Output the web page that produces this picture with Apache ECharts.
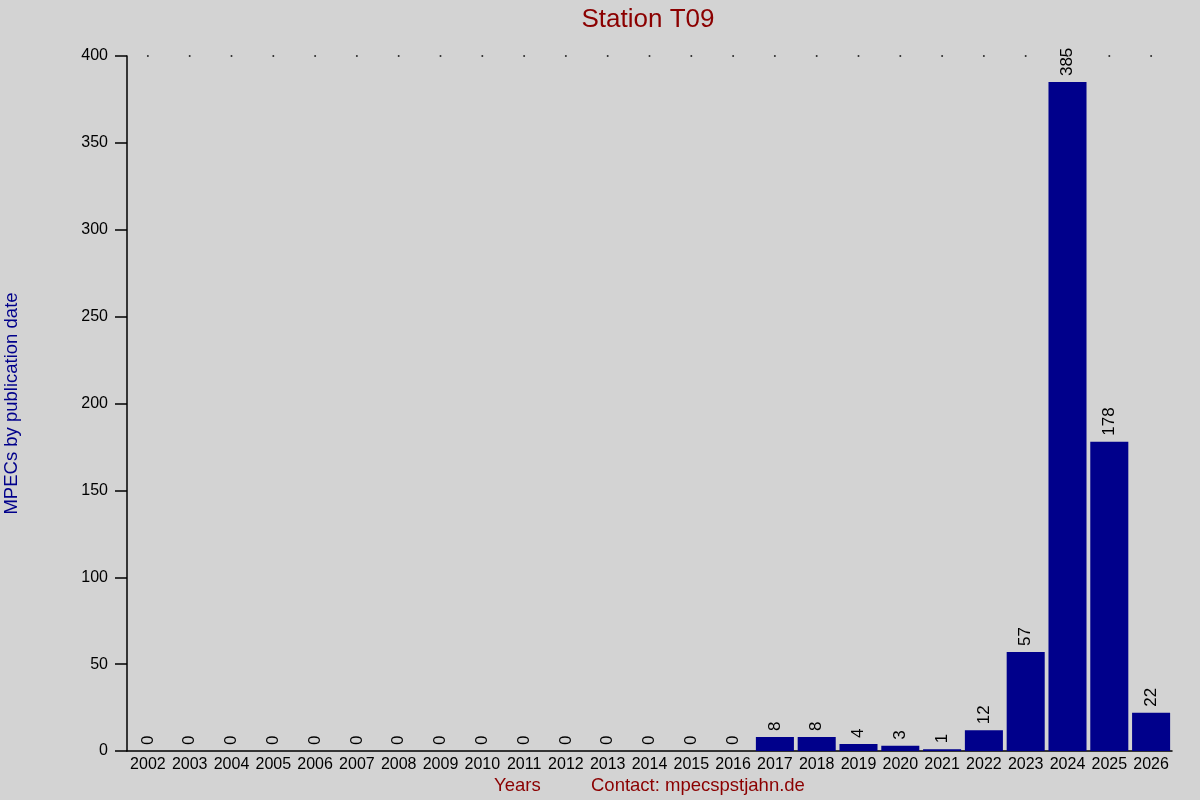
<!DOCTYPE html>
<html><head><meta charset="utf-8">
<script src="https://cdn.jsdelivr.net/npm/echarts@6/dist/echarts.min.js"></script>
<style>html,body{margin:0;padding:0;background:#d3d3d3}#c{width:1200px;height:800px}</style>
</head><body><div id="c"></div>
<script>
const years = ['2002','2003','2004','2005','2006','2007','2008','2009','2010','2011','2012','2013','2014','2015','2016','2017','2018','2019','2020','2021','2022','2023','2024','2025','2026'];
const counts = [0,0,0,0,0,0,0,0,0,0,0,0,0,0,0,8,8,4,3,1,12,57,385,178,22];
const yTicks = {min:0, max:400, interval:50};
const chart = echarts.init(document.getElementById('c'));
const F = 'Liberation Sans, Arial, sans-serif';
chart.setOption({
  backgroundColor:'#d3d3d3',
  animation:false,
  title:{text:'Station T09', left:643, top:2, textAlign:'center',
    textStyle:{color:'#8b0000', fontSize:26, fontWeight:'normal', fontFamily:F}},
  grid:{left:127, right:28, top:56, bottom:49, containLabel:false, outerBoundsMode:'none'},
  xAxis:{type:'category', data:years,
    axisLine:{lineStyle:{color:'#000', width:1.5}},
    axisTick:{show:false},
    axisLabel:{color:'#000', fontSize:16, fontFamily:F, margin:6, interval:0},
    splitLine:{show:false}},
  yAxis:{type:'value', min:yTicks.min, max:yTicks.max, interval:yTicks.interval,
    name:'MPECs by publication date', nameLocation:'middle', nameGap:106,
    nameTextStyle:{color:'#00008b', fontSize:18.5, fontFamily:F},
    axisLine:{show:true, lineStyle:{color:'#000', width:1.5}},
    axisTick:{show:true, length:12, lineStyle:{color:'#000', width:1.5}},
    axisLabel:{color:'#000', fontSize:16, fontFamily:F, margin:19},
    splitLine:{show:false}},
  series:[
    {type:'bar', data:counts, barCategoryGap:'9%',
      itemStyle:{color:'#00008b'},
      label:{show:true, position:'top', rotate:90, align:'left', verticalAlign:'middle',
        distance:6, color:'#000', fontSize:17, fontFamily:F}},
    {type:'scatter', data:years.map(()=>yTicks.max), symbolSize:2,
      itemStyle:{color:'#000'}, silent:true}
  ],
  graphic:[
    {type:'text', left:494, top:776, style:{text:'Years', fill:'#8b0000', font:'18.5px '+F}},
    {type:'text', left:591, top:776, style:{text:'Contact: mpecspstjahn.de', fill:'#8b0000', font:'18.5px '+F}}
  ]
});
</script></body></html>
